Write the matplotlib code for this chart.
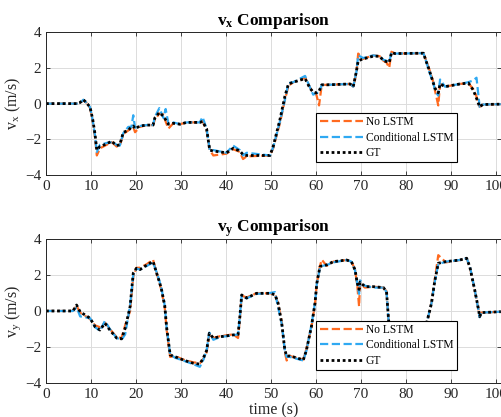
import matplotlib
matplotlib.use("Agg")
import matplotlib.pyplot as plt

plt.rcParams['font.family'] = ['Liberation Serif', 'DejaVu Serif']
plt.rcParams['mathtext.fontset'] = 'custom'
plt.rcParams['mathtext.rm'] = 'Liberation Serif'
plt.rcParams['mathtext.it'] = 'Liberation Serif:italic'
plt.rcParams['mathtext.bf'] = 'Liberation Serif:bold'

# ---- v_x data (time in s, velocity in m/s) ----
tx = [0, 6.8, 7.5, 8.3, 9.0, 9.8, 10.4, 10.9, 11.3, 12.0,
      13.5, 14.6, 15.7, 16.4, 17.2, 18.3, 19.0, 19.4, 19.8, 20.9,
      22.4, 23.8, 24.2, 25.2, 26.1, 26.6, 27.2, 28.3, 29.8, 31.3,
      34.2, 34.8, 35.7, 36.4, 37.2, 40.1, 41.6, 43.1, 43.8, 44.6,
      49.8, 50.5, 52.0, 53.1, 53.9, 55.0, 57.6, 58.7, 59.4, 60.1,
      60.7, 61.3, 62.4, 67.6, 68.3, 69.0, 69.4, 70.5, 72.7, 74.2,
      75.0, 75.7, 76.3, 76.8, 77.6, 83.9, 84.6, 85.3, 86.1, 86.5,
      87.2, 87.6, 88.7, 92.0, 93.9, 95.0, 95.7, 96.4, 97.1, 101.1]
vx_gt = [0, 0, 0.05, 0.22, 0.05, -0.2, -0.9, -1.7, -2.6, -2.4,
         -2.25, -2.1, -2.35, -2.3, -1.6, -1.5, -1.3, -1.25, -1.4, -1.25,
         -1.2, -1.2, -0.8, -0.5, -0.7, -0.9, -1.15, -1.1, -1.15, -1.05,
         -1.05, -1.0, -1.4, -2.6, -2.65, -2.75, -2.5, -2.65, -2.85, -2.9,
         -2.9, -2.4, -0.9, 0.4, 1.1, 1.2, 1.4, 0.85, 0.65, 0.6,
         0.7, 1.05, 1.05, 1.1, 0.95, 1.8, 2.4, 2.5, 2.65, 2.65,
         2.4, 2.35, 2.3, 2.85, 2.8, 2.82, 2.3, 1.8, 1.15, 0.85,
         0.6, 1.1, 0.95, 1.1, 1.15, 0.75, 0.3, -0.18, -0.05, -0.03]
vx_nolstm = [0, 0, 0.0, 0.2, 0.05, -0.25, -1.0, -1.9, -2.9, -2.5,
             -2.3, -2.15, -2.4, -2.35, -1.7, -1.5, -1.35, -1.3, -1.6, -1.3,
             -1.2, -1.2, -0.9, -0.55, -0.6, -1.0, -1.4, -1.1, -1.15, -1.05,
             -1.05, -0.95, -1.5, -2.6, -2.9, -2.8, -2.55, -2.7, -3.1, -2.95,
             -2.9, -2.5, -1.1, 0.2, 1.0, 1.2, 1.45, 0.9, 0.6, 0.5,
             -0.1, 1.05, 1.05, 1.1, 0.95, 1.7, 2.8, 2.5, 2.7, 2.65,
             2.4, 2.3, 2.0, 2.9, 2.8, 2.82, 2.35, 1.85, 1.2, 0.7,
             -0.1, 1.1, 0.95, 1.1, 1.15, 0.8, 0.4, -0.18, -0.05, -0.03]
vx_cond = [0, 0, 0.0, 0.22, 0.05, -0.2, -0.95, -1.8, -2.7, -2.3,
           -2.2, -2.15, -2.3, -2.35, -1.65, -1.3, -1.3, -0.65, -1.35, -1.25,
           -1.2, -1.2, -0.75, -0.25, -0.8, -0.3, -1.1, -1.05, -1.15, -1.05,
           -1.05, -0.75, -1.4, -2.6, -2.6, -2.75, -2.35, -2.6, -2.9, -2.75,
           -2.9, -2.45, -1.0, 0.2, 1.15, 1.2, 1.55, 0.9, 0.5, 0.6,
           0.6, 1.05, 1.05, 1.1, 0.95, 1.75, 2.7, 2.55, 2.7, 2.65,
           2.45, 2.4, 2.3, 2.85, 2.8, 2.82, 2.3, 1.7, 1.2, 0.7,
           0.45, 1.35, 0.95, 1.1, 1.2, 1.3, 1.45, -0.18, -0.05, -0.03]

# ---- v_y data ----
ty = [0, 6.0, 6.8, 7.6, 9.8, 10.9, 12.0, 13.1, 14.2, 15.7,
      16.8, 17.6, 18.7, 19.4, 20.1, 20.9, 22.4, 23.8, 24.6, 25.3,
      25.7, 26.4, 26.8, 27.6, 28.7, 30.5, 32.7, 34.2, 35.0, 35.7,
      36.3, 37.2, 38.7, 41.6, 42.7, 43.1, 43.5, 44.6, 46.8, 49.8,
      50.9, 51.6, 52.4, 53.1, 53.5, 54.2, 55.7, 57.2, 57.9, 59.0,
      59.8, 60.2, 60.9, 61.3, 62.4, 63.9, 66.8, 67.9, 68.7, 69.2,
      69.6, 69.8, 70.9, 72.7, 75.0, 75.7, 76.1, 76.8, 84.0, 84.6,
      85.7, 86.4, 87.2, 88.9, 92.0, 93.5, 94.2, 95.3, 96.1, 96.4,
      96.8, 101.1]
vy_gt = [0, 0, 0.33, -0.05, -0.4, -0.87, -1.06, -0.68, -1.06, -1.5,
         -1.55, -0.96, 0.24, 2.1, 2.37, 2.3, 2.55, 2.75, 2.1, 1.54,
         1.17, 0.3, -0.87, -2.44, -2.54, -2.72, -2.9, -2.95, -2.6, -2.2,
         -1.24, -1.5, -1.43, -1.33, -1.3, -0.31, 0.89, 0.72, 0.98, 0.98,
         0.9, 0.43, -0.68, -2.17, -2.5, -2.5, -2.6, -2.72, -2.17, -0.87,
         0.43, 1.54, 2.46, 2.5, 2.56, 2.74, 2.83, 2.74, 2.28, 1.54,
         1.2, 1.6, 1.35, 1.35, 1.3, 1.07, -0.31, -2.3, -2.3, -0.68,
         0.43, 1.63, 2.65, 2.74, 2.83, 2.93, 2.46, 1.17, 0.15, -0.31,
         -0.09, -0.04]
vy_nolstm = [0, 0, 0.3, -0.1, -0.45, -0.8, -0.9, -0.65, -1.0, -1.45,
             -1.5, -0.8, 0.0, 1.9, 2.4, 2.4, 2.6, 2.85, 2.1, 1.5,
             1.1, 0.2, -1.0, -2.55, -2.5, -2.7, -2.85, -2.9, -2.65, -2.3,
             -1.3, -1.5, -1.4, -1.3, -1.5, -0.4, 0.85, 0.75, 0.98, 0.98,
             0.95, 0.4, -0.6, -2.3, -2.75, -2.5, -2.6, -2.7, -2.1, -0.9,
             0.4, 1.5, 2.5, 2.85, 2.5, 2.74, 2.83, 2.74, 2.3, 1.4,
             0.25, 1.5, 1.3, 1.35, 1.3, 1.1, -0.4, -2.3, -2.3, -0.8,
             0.5, 1.7, 3.1, 2.7, 2.83, 2.93, 2.46, 1.15, 0.1, -0.31,
             -0.09, -0.04]
vy_cond = [0, 0, 0.2, -0.3, -0.4, -0.9, -1.1, -0.55, -1.0, -1.5,
           -1.6, -1.3, 0.3, 2.0, 2.35, 2.3, 2.5, 2.7, 2.15, 1.6,
           1.2, 0.3, -0.9, -2.4, -2.6, -2.75, -2.95, -3.1, -2.7, -2.2,
           -1.2, -1.6, -1.45, -1.35, -1.3, -0.3, 0.85, 0.7, 0.95, 1.0,
           1.05, 0.2, -0.7, -2.2, -2.55, -2.55, -2.65, -2.75, -2.2, -0.8,
           0.45, 1.5, 2.4, 2.5, 2.55, 2.7, 2.83, 2.74, 2.25, 1.5,
           0.95, 1.7, 1.4, 1.3, 1.3, 1.05, -0.35, -2.3, -2.3, -0.7,
           0.45, 1.6, 2.6, 2.74, 2.83, 2.93, 2.5, 1.2, 0.1, -0.35,
           -0.09, -0.04]

labels = ['No LSTM', 'Conditional LSTM', 'GT']
c_orange = '#FF6A1F'
c_blue = '#2FA9F2'


def draw_panel(ax, t, nolstm, cond, gt, sub, show_xlabel):
    ax.plot(t, nolstm, '--', color=c_orange, lw=1.6, label=labels[0])
    ax.plot(t, cond, '--', color=c_blue, lw=1.6, label=labels[1])
    ax.plot(t, gt, color='black', lw=2.0, linestyle=(0, (1, 1)), label=labels[2])
    ax.set_xlim(0, 101.1)
    ax.set_ylim(-4, 4)
    ax.set_xticks(range(0, 101, 10))
    ax.set_yticks([-4, -2, 0, 2, 4])
    ax.grid(True, color='#dcdcdc', lw=0.7)
    ax.set_axisbelow(True)
    ax.tick_params(direction='in', top=True, right=True, labelsize=11,
                   colors='#262626', length=3, width=0.6)
    for sp in ax.spines.values():
        sp.set_color('#262626')
        sp.set_linewidth(0.7)
    ax.set_title(r'$\mathbf{v_%s}$ Comparison' % sub, fontsize=12.5,
                 fontweight='bold', pad=5)
    ax.set_ylabel(r'$\mathrm{v_%s}$ (m/s)' % sub, fontsize=11.5, color='#262626',
                  labelpad=1)
    if show_xlabel:
        ax.set_xlabel('time (s)', fontsize=11.5, color='#262626', labelpad=1)
    leg = ax.legend(loc='lower right', bbox_to_anchor=(0.903, 0.09), fontsize=8.3,
                    handlelength=3.8, labelspacing=0.28, borderpad=0.3,
                    handletextpad=0.2, borderaxespad=0, fancybox=False,
                    framealpha=1, edgecolor='black')
    leg.get_frame().set_linewidth(0.8)


fig = plt.figure(figsize=(5.02, 4.17), dpi=100)
ax1 = fig.add_axes([0.0916, 0.580, 0.906, 0.343])
ax2 = fig.add_axes([0.0916, 0.0815, 0.906, 0.3455])

draw_panel(ax1, tx, vx_nolstm, vx_cond, vx_gt, 'x', False)
draw_panel(ax2, ty, vy_nolstm, vy_cond, vy_gt, 'y', True)

fig.savefig('out.png', dpi=100)
